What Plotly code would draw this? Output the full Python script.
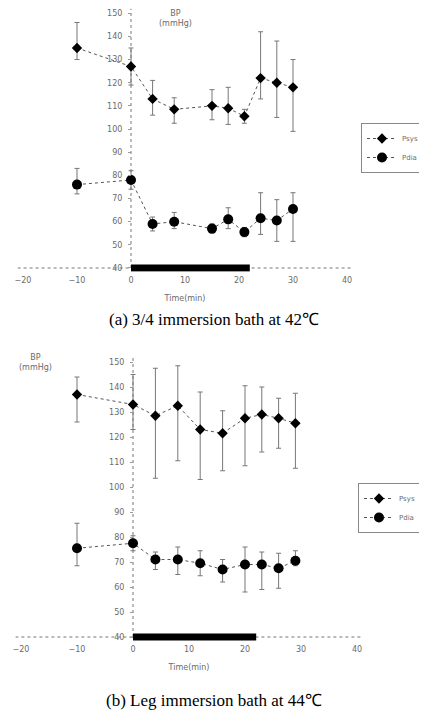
import plotly.graph_objects as go

# ---- data (a) 3/4 immersion bath at 42C ----
t_a = [-10, 0, 4, 8, 15, 18, 21, 24, 27, 30]
sys_a = [135, 127, 113, 108.5, 110, 109, 105.5, 122, 120, 118]
sys_a_plus = [11, 8, 8, 5, 7, 9, 3, 20, 18, 12]
sys_a_minus = [5, 8, 7, 6, 6, 7, 3, 9, 15, 19]
dia_a = [76, 78, 59, 60, 57, 61, 55.5, 61.5, 60.5, 65.5]
dia_a_plus = [7, 4, 3, 4, 2, 5, 2, 11, 9, 7]
dia_a_minus = [4, 4, 3, 3, 2, 4, 2, 7, 9, 14]
immersion_a = [0, 22]

# ---- data (b) Leg immersion bath at 44C ----
t_b = [-10, 0, 4, 8, 12, 16, 20, 23, 26, 29]
sys_b = [137, 133, 128.5, 132.5, 123, 121.5, 127.5, 129, 127.5, 125.5]
sys_b_plus = [7, 12, 19, 16, 15, 9, 13, 11, 8, 12]
sys_b_minus = [11, 10, 25, 22, 20, 15, 19, 15, 12, 18]
dia_b = [75.5, 77.5, 71, 71, 69.5, 67, 69, 69, 67.5, 70.5]
dia_b_plus = [10, 3, 3, 5, 5, 4, 7, 5, 6, 4]
dia_b_minus = [7, 3, 4, 6, 5, 5, 11, 10, 8, 2]
immersion_b = [0, 22]

x_ticks = [-20, -10, 0, 10, 20, 30, 40]
y_ticks = [40, 50, 60, 70, 80, 90, 100, 110, 120, 130, 140, 150]
y_base = 40
series_names = ["Psys", "Pdia"]

# page body has an 8px margin, so the figure is drawn 8px in from the window edge
OFF = 8
W, H = 427 - OFF, 716 - OFF


def px(xp):
    return (xp - OFF) / W


def py(yp):
    return 1 - (yp - OFF) / H


XR = [-21, 41]
YR = [38.4, 152]

# domains (paper fractions)
xdom_a = [px(17.6), px(352.4)]
ydom_a = [py(271.7), py(8.6)]
xdom_b = [px(15.4), px(362.6)]
ydom_b = [py(641.0), py(357.0)]


def zero_pos(dom):
    return dom[0] + (0 - XR[0]) / (XR[1] - XR[0]) * (dom[1] - dom[0])


GRAY = "#6a6a6a"
fig = go.Figure()


def add_panel(t, sy, syp, sym, dy, dyp, dym, imm, xa, ya, leg):
    err = dict(thickness=1, width=2.5, color="#777")
    fig.add_trace(go.Scatter(
        x=t, y=sy, mode="lines+markers", name=series_names[0],
        xaxis=xa, yaxis=ya, legend=leg,
        line=dict(color="#555", width=1, dash="dot"),
        marker=dict(symbol="diamond", size=8, color="black"),
        error_y=dict(type="data", symmetric=False, array=syp, arrayminus=sym, **err)))
    fig.add_trace(go.Scatter(
        x=t, y=dy, mode="lines+markers", name=series_names[1],
        xaxis=xa, yaxis=ya, legend=leg,
        line=dict(color="#555", width=1, dash="dot"),
        marker=dict(symbol="circle", size=10, color="black"),
        error_y=dict(type="data", symmetric=False, array=dyp, arrayminus=dym, **err)))
    fig.add_trace(go.Scatter(
        x=imm, y=[y_base, y_base], mode="lines", showlegend=False,
        xaxis=xa, yaxis=ya, hoverinfo="skip",
        line=dict(color="black", width=7)))


add_panel(t_a, sys_a, sys_a_plus, sys_a_minus, dia_a, dia_a_plus, dia_a_minus,
          immersion_a, "x", "y", "legend")
add_panel(t_b, sys_b, sys_b_plus, sys_b_minus, dia_b, dia_b_plus, dia_b_minus,
          immersion_b, "x2", "y2", "legend2")

tickfont = dict(family="DejaVu Sans", size=8, color=GRAY)
xcommon = dict(range=XR, tickvals=x_ticks, showgrid=False, zeroline=False,
               showline=False, ticks="", tickfont=tickfont, ticklabelstandoff=2,
               automargin=False,
               title=dict(text="Time(min)", font=dict(family="DejaVu Sans", size=8, color=GRAY), standoff=11))
ycommon = dict(range=YR, tickvals=y_ticks, showgrid=False, zeroline=False,
               showline=False, ticks="outside", ticklen=3, tickcolor="#999",
               tickfont=tickfont, ticklabelstandoff=4, anchor="free", automargin=False)

legfont = dict(family="DejaVu Sans", size=7, color=GRAY)
fig.update_layout(
    width=W, height=H, margin=dict(l=0, r=0, t=0, b=0, autoexpand=False),
    paper_bgcolor="white", plot_bgcolor="white",
    xaxis=dict(domain=xdom_a, anchor="y", **xcommon),
    yaxis=dict(domain=ydom_a, position=zero_pos(xdom_a), **ycommon),
    xaxis2=dict(domain=xdom_b, anchor="y2", **xcommon),
    yaxis2=dict(domain=ydom_b, position=zero_pos(xdom_b), **ycommon),
    legend=dict(x=px(361), y=py(123), xanchor="left", yanchor="top",
                bgcolor="white", bordercolor="#888", borderwidth=1,
                font=legfont, itemwidth=30, tracegroupgap=0),
    legend2=dict(x=px(358), y=py(483), xanchor="left", yanchor="top",
                 bgcolor="white", bordercolor="#888", borderwidth=1,
                 font=legfont, itemwidth=30, tracegroupgap=0),
    showlegend=True,
)

# axis lines (dotted, as in the scan)
for xr, yr in (("x", "y"), ("x2", "y2")):
    fig.add_shape(type="line", xref=xr, yref=yr, x0=XR[0], x1=XR[1], y0=y_base, y1=y_base,
                  line=dict(color="#777", width=1, dash="dot"), layer="below")
    fig.add_shape(type="line", xref=xr, yref=yr, x0=0, x1=0, y0=y_base, y1=YR[1],
                  line=dict(color="#777", width=1, dash="dot"), layer="below")

ann_font = dict(family="DejaVu Sans", size=8, color=GRAY)
fig.add_annotation(text="BP<br>(mmHg)", xref="paper", yref="paper",
                   x=px(175), y=py(18), xanchor="center", yanchor="middle",
                   showarrow=False, font=ann_font)
fig.add_annotation(text="BP<br>(mmHg)", xref="paper", yref="paper",
                   x=px(35), y=py(363), xanchor="center", yanchor="middle",
                   showarrow=False, font=ann_font)

cap_font = dict(family="Liberation Serif", size=17, color="black")
fig.add_annotation(text="(a) 3/4 immersion bath at 42\u2103", xref="paper", yref="paper",
                   x=px(213.5), y=py(320), xanchor="center", yanchor="middle",
                   showarrow=False, font=cap_font)
fig.add_annotation(text="(b) Leg immersion bath at 44\u2103", xref="paper", yref="paper",
                   x=px(213.5), y=py(700), xanchor="center", yanchor="middle",
                   showarrow=False, font=cap_font)

fig.write_html("out.html")
